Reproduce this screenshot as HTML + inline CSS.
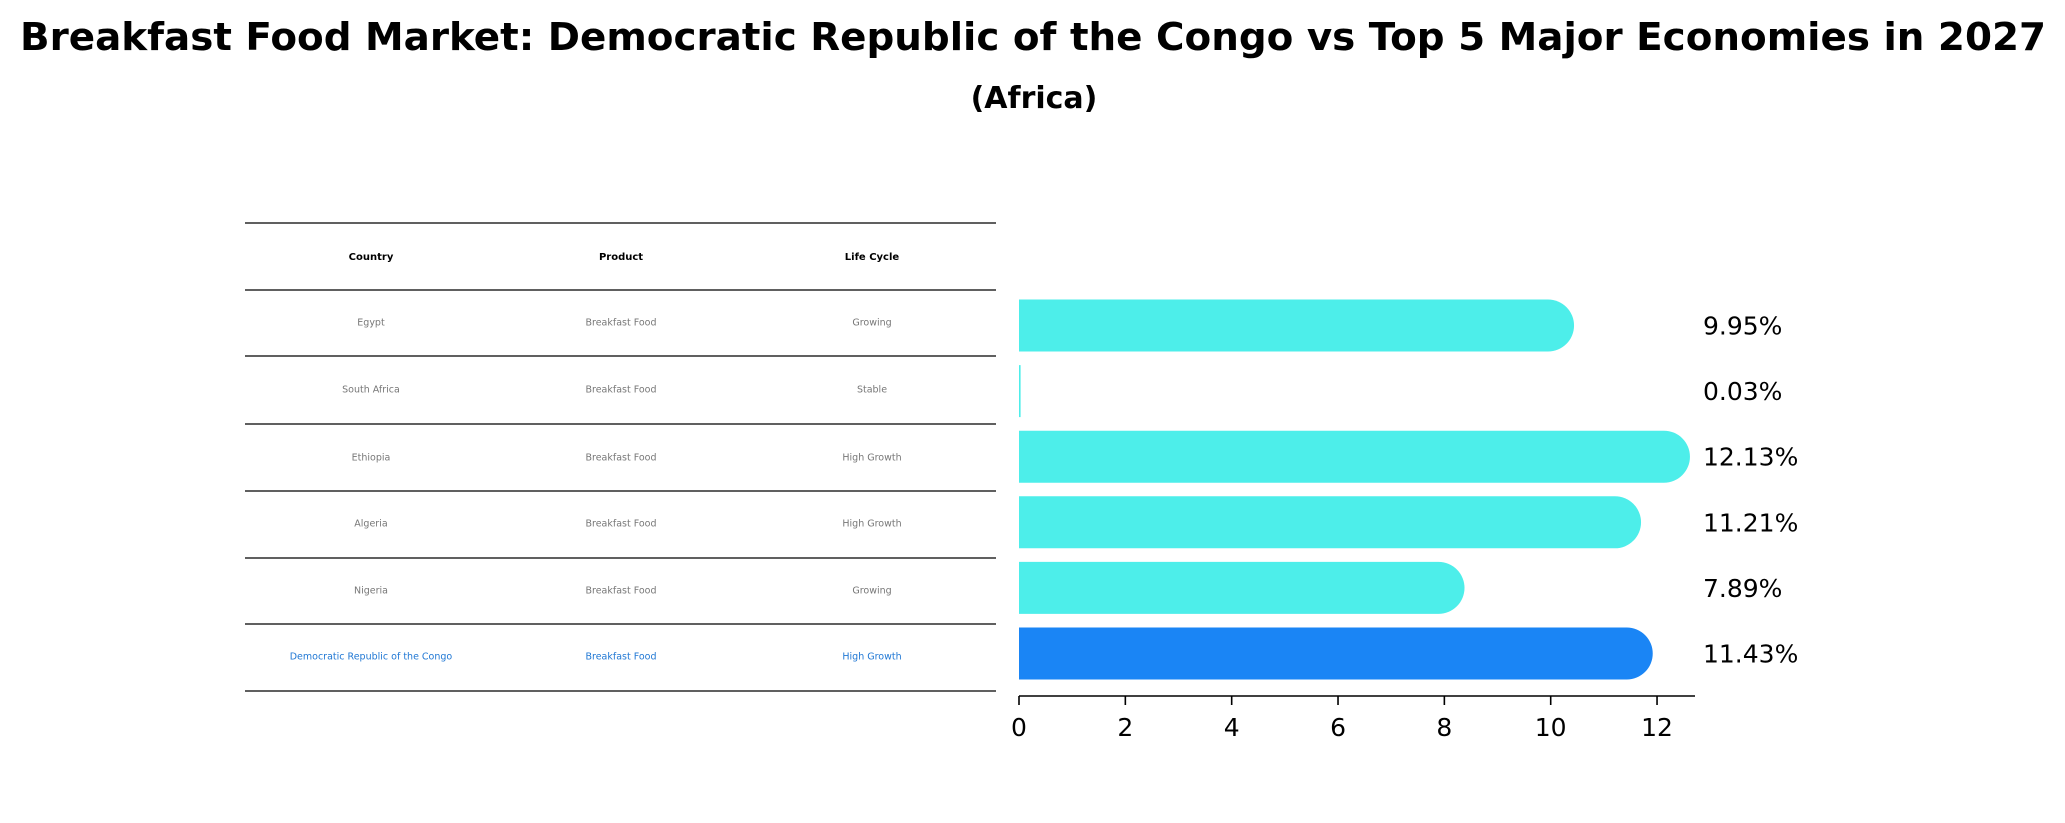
<!DOCTYPE html>
<html><head><meta charset="utf-8"><style>
html,body{margin:0;padding:0;background:#fff;}
svg{display:block;font-family:"DejaVu Sans","Liberation Sans",sans-serif;}
</style></head><body>
<svg id="chart" width="2065" height="823" viewBox="0 0 2065 823" xmlns="http://www.w3.org/2000/svg">
<text x="1033" y="50" text-anchor="middle" font-size="38" font-weight="bold" textLength="2026" lengthAdjust="spacingAndGlyphs">Breakfast Food Market: Democratic Republic of the Congo vs Top 5 Major Economies in 2027</text>
<text x="1034" y="108" text-anchor="middle" font-size="30" font-weight="bold">(Africa)</text>
<g id="table"></g>
<g id="bars"></g>
</svg>
<script>
const countries = ["Egypt","South Africa","Ethiopia","Algeria","Nigeria","Democratic Republic of the Congo"];
const products = ["Breakfast Food","Breakfast Food","Breakfast Food","Breakfast Food","Breakfast Food","Breakfast Food"];
const lifeCycles = ["Growing","Stable","High Growth","High Growth","Growing","High Growth"];
const values = [9.95,0.03,12.13,11.21,7.89,11.43];
const valueLabels = ["9.95%","0.03%","12.13%","11.21%","7.89%","11.43%"];
const xTicks = [0,2,4,6,8,10,12];

const NS="http://www.w3.org/2000/svg";
function mk(tag,attrs,parent){const e=document.createElementNS(NS,tag);for(const k in attrs)e.setAttribute(k,attrs[k]);parent.appendChild(e);return e;}
const x0=1019, pxPer=53.17;
function xs(v){return x0+v*pxPer;}
const rowTop=291, rowH=66.6, barH=52;
function yc(i){return 325.5+i*65.6;}

// table
const tb=document.getElementById('table');
const lineYs=[223,290,356,424,491,558,624,691];
lineYs.forEach((y,i)=>{const l=mk('line',{x1:245,x2:996,y1:y,y2:y,stroke:'#000','stroke-width':1.3},tb);

});
const colX=[371,621,872];
["Country","Product","Life Cycle"].forEach((h,j)=>{const t=mk('text',{x:colX[j],y:260,'text-anchor':'middle','font-size':10,'font-weight':'bold',fill:'#000'},tb);t.textContent=h;

});
const rowYs=[322,389,457,523,590,656];
countries.forEach((c,i)=>{const col=i===countries.length-1?'#1f77d4':'#777';
[c,products[i],lifeCycles[i]].forEach((s,j)=>{const t=mk('text',{x:colX[j],y:rowYs[i]+3.5,'text-anchor':'middle','font-size':9.5,fill:col},tb);t.textContent=s;

});});

// bars
const bg=document.getElementById('bars');
values.forEach((v,i)=>{
 const r=barH/2, y=yc(i)-r, w=xs(v)-x0;
 const col=i===values.length-1?'#1a85f5':'#4deeea';
 let d;
 if(w<2){d=`M${x0} ${y}h${Math.max(w,1.5)}v${barH}h${-Math.max(w,1.5)}z`;}
 else d=`M${x0} ${y}H${x0+w}A${r} ${r} 0 0 1 ${x0+w} ${y+barH}H${x0}Z`;
 const p=mk('path',{d:d,fill:col},bg);
 
 
 const t=mk('text',{x:1703,y:yc(i)+9,'font-size':25,fill:'#000'},bg);t.textContent=valueLabels[i];
 
 
});
const ax=mk('line',{x1:x0,x2:1695,y1:696,y2:696,stroke:'#000','stroke-width':1.6},bg);


xTicks.forEach(v=>{const tk=mk('line',{x1:xs(v),x2:xs(v),y1:696,y2:705,stroke:'#000','stroke-width':1.6},bg);


const t=mk('text',{x:xs(v),y:736,'text-anchor':'middle','font-size':25,fill:'#000'},bg);t.textContent=v;

});
</script>
</body></html>
